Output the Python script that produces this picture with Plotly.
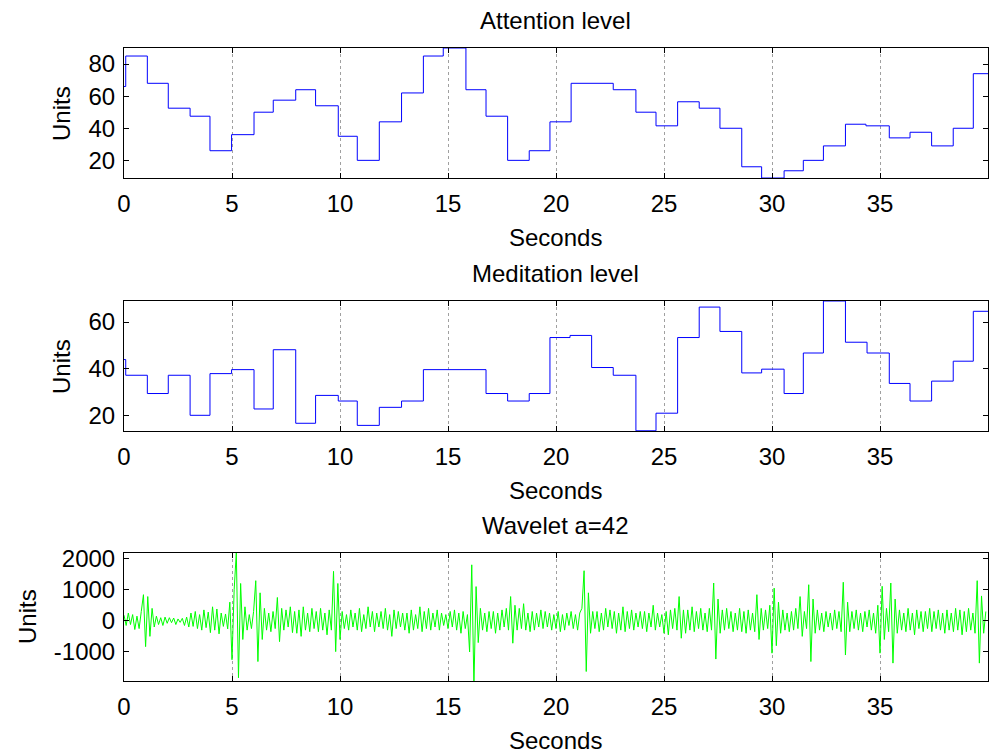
import numpy as np
import plotly.graph_objects as go

# ---------------- data ----------------
att_t = [0, 0.08, 1.08, 2.05, 3.06, 3.98, 4.98, 6.02, 6.91, 7.95, 8.87, 9.92, 10.8, 11.82,
         12.85, 13.86, 14.78, 15.83, 16.76, 17.76, 18.76, 19.72, 20.7, 22.65, 23.7, 24.63,
         25.63, 26.63, 27.59, 28.6, 29.52, 30.56, 31.45, 32.38, 33.4, 34.35, 35.43, 36.39,
         37.39, 38.39, 39.32, 40]
att_v = [66, 85, 68, 52.5, 47.5, 26, 36, 50, 57.5, 64, 54, 35, 20, 44, 62, 85, 90, 64,
         47.5, 20, 26, 44, 68, 64, 50, 41.5, 56.5, 52.5, 40, 16, 9, 13.5, 20, 29, 42.5,
         41.5, 34, 37.5, 29, 40, 74, 74]

med_t = [0, 0.08, 1.08, 2.05, 3.06, 3.98, 4.98, 6.02, 6.91, 7.95, 8.87, 9.92, 10.8, 11.82,
         12.85, 13.86, 16.76, 17.76, 18.76, 19.72, 20.65, 21.65, 22.65, 23.7, 24.63, 25.63,
         26.63, 27.59, 28.6, 29.52, 30.56, 31.45, 32.38, 33.4, 34.4, 35.43, 36.39, 37.39,
         38.39, 39.32, 40]
med_v = [44, 37.3, 29.5, 37.3, 20.2, 38, 39.7, 22.9, 48.2, 16.8, 28.7, 26.3, 15.9, 23.6,
         26.3, 39.7, 29.5, 26.3, 29.5, 53.4, 54.3, 40.6, 37.3, 13.6, 21.1, 53.4, 66.4, 56,
         38.3, 39.9, 29.5, 46.8, 69, 51.4, 46.8, 33.8, 26.3, 34.8, 43.3, 64.6, 64.6]

wavelet_step = 0.1  # seconds between samples
wavelet_v = [
    180, -150, 250, -120, 200, -280, 150, -250, 300, 840,
    -830, 780, -500, 400, -200, 150, -120, 100, -150, 120,
    -80, 100, -60, 90, -120, 60, -50, 80, -150, 120,
    -200, 250, -180, 300, -250, 200, -300, 350, -220, 280,
    -380, 450, -300, 380, -420, 250, -180, 220, -260, 600,
    -1250, 1000, 2200, -1830, 1200, -600, 450, -300, 200, -250,
    300, 1290, -1310, 900, -600, 400, -300, 250, -350, 300,
    -250, 750, -670, 400, -300, 350, -200, 450, -380, 300,
    -400, 350, -500, 450, -300, 250, -350, 400, -250, 300,
    -350, 400, -300, 250, -450, 350, -300, 1590, -990, 1200,
    -600, 300, -250, 200, -300, 350, -200, 250, -300, 400,
    -350, 200, -250, 450, -200, 300, -350, 250, -200, 300,
    -250, 400, -300, 200, -500, 350, -250, 300, -200, 250,
    -300, 250, -400, 350, -300, 200, -250, 450, -350, 300,
    -250, 400, -300, 250, -200, 350, -300, 250, -150, 200,
    -250, 300, -200, 350, -300, 250, -400, 300, -250, 200,
    -1000, 1800, -2100, 1100, -700, 400, -300, 250, -350, 300,
    -250, 300, -400, 250, -300, 350, -200, 400, -300, 780,
    -720, 500, -300, 400, -250, 550, -300, 250, -350, 300,
    -300, 250, -200, 350, -250, 300, -200, 250, -300, 200,
    -250, 300, -350, 200, -300, 250, -150, 300, -250, 200,
    -300, 250, 400, 1610, -1630, 900, -400, 300, -250, 300,
    -350, 250, -300, 400, -200, 350, -250, 300, -400, 250,
    -300, 450, -350, 300, -250, 350, -300, 250, -200, 300,
    -250, 300, -350, 250, -200, 500, -300, 250, -200, 200,
    -400, 300, -450, 350, -250, 400, -300, 780, -560, 350,
    -400, 350, -300, 450, -350, 300, -250, 400, -300, 250,
    -350, 400, -300, 1215, -1230, 700, -400, 350, -300, 400,
    -250, 300, -350, 250, -300, 400, -350, 300, -400, 350,
    -300, 250, -350, 840, -600, 400, -300, 350, -250, 500,
    -1040, 1050, -800, 600, -400, 350, -300, 250, -350, 300,
    -300, 400, -250, 780, -500, 300, -250, 1160, -1310, 700,
    -400, 350, -300, 250, -350, 300, -200, 250, -300, 350,
    -250, 300, -350, 1240, -1100, 600, -350, 300, -250, 350,
    -300, 250, -350, 300, -200, 350, -300, 250, -400, 500,
    -1040, 1110, -600, 400, -350, 1215, -1360, 700, -400, 350,
    -300, 250, -350, 400, -300, 250, -450, 350, -250, 300,
    -350, 300, -250, 400, -350, 300, -250, 350, -300, 250,
    -400, 350, -300, 250, -350, 400, -300, 350, -450, 300,
    -350, 400, -300, 250, -400, 1290, -1360, 800, -400, 300,
]
wavelet_t = [i * wavelet_step for i in range(len(wavelet_v))]

x_ticks = [0, 5, 10, 15, 20, 25, 30, 35]
att_ticks = [20, 40, 60, 80]
med_ticks = [20, 40, 60]
wav_ticks = [-1000, 0, 1000, 2000]

titles = ["Attention level", "Meditation level", "Wavelet a=42"]

# ---------------- figure ----------------
W, H = 989, 755
FONT = "Liberation Sans, Arial, sans-serif"
FS = 24

fig = go.Figure()
fig.add_trace(go.Scatter(x=att_t, y=att_v, mode="lines", line=dict(color="#0000ff", width=1, shape="hv"),
                         xaxis="x", yaxis="y", showlegend=False, hoverinfo="skip"))
fig.add_trace(go.Scatter(x=med_t, y=med_v, mode="lines", line=dict(color="#0000ff", width=1, shape="hv"),
                         xaxis="x2", yaxis="y2", showlegend=False, hoverinfo="skip"))
fig.add_trace(go.Scatter(x=wavelet_t, y=wavelet_v, mode="lines", line=dict(color="#00ff00", width=1),
                         xaxis="x3", yaxis="y3", showlegend=False, hoverinfo="skip"))

L, R = 124, 988
def ydom(top, bot):
    return [1 - bot / H, 1 - top / H]

panels = [(48, 178, [9, 90], att_ticks, 61), (301, 431, [13.5, 69], med_ticks, 61),
          (553, 681, [-1935, 2180], wav_ticks, 27)]

axis_common = dict(showline=True, linecolor="black", linewidth=1, mirror="ticks",
                   ticks="inside", ticklen=5, tickwidth=1, tickcolor="black", automargin=False,
                   tickfont=dict(family=FONT, size=FS, color="black"), zeroline=False)

layout = dict(width=W, height=H, margin=dict(l=L, r=W - R, t=0, b=0, autoexpand=False),
              paper_bgcolor="white", plot_bgcolor="white",
              font=dict(family=FONT, size=FS, color="black"))
annotations = []
for i, (top, bot, yr, yt, ux) in enumerate(panels):
    sfx = "" if i == 0 else str(i + 1)
    layout["xaxis" + sfx] = dict(axis_common, domain=[0, 1], range=[0, 40], tickvals=x_ticks,
                                 showgrid=True, gridcolor="#a0a0a0", griddash="dot", gridwidth=1,
                                 anchor="y" + sfx, ticklabelstandoff=4)
    layout["yaxis" + sfx] = dict(axis_common, domain=ydom(top, bot), range=yr, tickvals=yt,
                                 ticktext=[str(v) for v in yt],
                                 showgrid=False, anchor="x" + sfx, ticklabelstandoff=3)
    annotations.append(dict(text=titles[i], x=(555 - L) / (R - L), y=1 - (top - 28) / H,
                            xref="paper", yref="paper",
                            showarrow=False, xanchor="center", yanchor="middle",
                            font=dict(family=FONT, size=FS, color="black")))
    annotations.append(dict(text="Seconds", x=(555 - L) / (R - L), y=1 - (bot + 59) / H,
                            xref="paper", yref="paper", showarrow=False,
                            xanchor="center", yanchor="middle",
                            font=dict(family=FONT, size=FS, color="black")))
    annotations.append(dict(text="Units", x=(ux - L) / (R - L), y=1 - ((top + bot) / 2) / H,
                            xref="paper", yref="paper", showarrow=False, textangle=-90,
                            xanchor="center", yanchor="middle",
                            font=dict(family=FONT, size=FS, color="black")))
layout["annotations"] = annotations
fig.update_layout(**layout)

fig.write_html("out.html", config={"displayModeBar": False})
